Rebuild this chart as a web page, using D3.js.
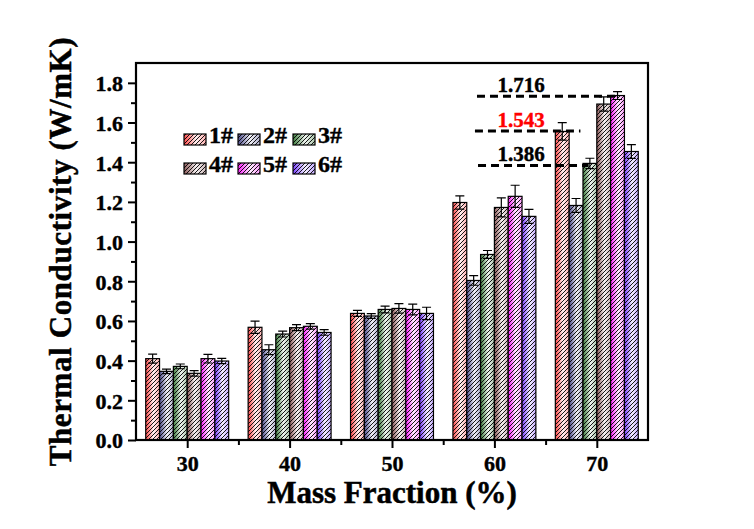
<!DOCTYPE html>
<html><head><meta charset="utf-8">
<script src="https://cdn.jsdelivr.net/npm/d3@7"></script>
<style>body{margin:0;background:#fff}svg{display:block}text{font-family:"Liberation Serif","Times New Roman",serif;font-weight:bold}</style>
</head><body><svg id="c" width="754" height="529"></svg>
<script>
const categories = [30, 40, 50, 60, 70];
const seriesNames = ["1#", "2#", "3#", "4#", "5#", "6#"];
const s1 = [0.410, 0.568, 0.638, 1.197, 1.555];
const s2 = [0.346, 0.455, 0.625, 0.804, 1.182];
const s3 = [0.371, 0.534, 0.658, 0.935, 1.394];
const s4 = [0.336, 0.566, 0.663, 1.172, 1.693];
const s5 = [0.410, 0.573, 0.658, 1.228, 1.736];
const s6 = [0.398, 0.542, 0.638, 1.127, 1.454];
const e1 = [0.023, 0.031, 0.015, 0.033, 0.044];
const e2 = [0.011, 0.025, 0.012, 0.024, 0.035];
const e3 = [0.012, 0.015, 0.017, 0.020, 0.026];
const e4 = [0.014, 0.015, 0.024, 0.048, 0.036];
const e5 = [0.022, 0.014, 0.027, 0.056, 0.020];
const e6 = [0.013, 0.014, 0.031, 0.035, 0.035];
const yTicks = [0.0, 0.2, 0.4, 0.6, 0.8, 1.0, 1.2, 1.4, 1.6, 1.8];
const annotLabels = ["1.716", "1.543", "1.386"];
const annotLevels = [1.733, 1.557, 1.384];
const annotStart = [58.3, 58.1, 58.4];
const annotEnd = [71.8, 68.4, 69.2];
const annotColors = ["#000", "#ff0000", "#000"];
const colors = ["#ff4a4a", "#50508f", "#3f7f3f", "#8c5a5a", "#ff20ff", "#7a40ff"];

const values = [s1, s2, s3, s4, s5, s6];
const errors = [e1, e2, e3, e4, e5, e6];

const svg = d3.select("#c");
svg.append("rect").attr("width", 754).attr("height", 529).attr("fill", "#fff");
const L = 136, R = 648, T = 63, B = 440;
const x = d3.scaleLinear().domain([25, 75]).range([L, R]);
const y = d3.scaleLinear().domain([0, 1.9]).range([B, T]);
const groupHalf = 4.05;
const sub = d3.scaleBand().domain(seriesNames).range([-groupHalf, groupHalf]).padding(0);

const defs = svg.append("defs");
colors.forEach((c, i) => {
  const g = defs.append("linearGradient").attr("id", "g" + i).attr("x1", 0).attr("x2", 1).attr("y1", 0).attr("y2", 0);
  const light = d3.interpolateRgb(c, "#fff");
  g.append("stop").attr("offset", 0).attr("stop-color", c);
  g.append("stop").attr("offset", 0.2).attr("stop-color", light(0.3));
  g.append("stop").attr("offset", 0.55).attr("stop-color", light(0.92));
  g.append("stop").attr("offset", 1).attr("stop-color", light(0.55));
});
const pat = defs.append("pattern").attr("id", "hatch").attr("patternUnits", "userSpaceOnUse")
  .attr("width", 4).attr("height", 4);
pat.append("path").attr("d", "M-1,1 l2,-2 M0,4 l4,-4 M3,5 l2,-2").attr("stroke", "#000").attr("stroke-width", 0.9);

// bars
const gBars = svg.append("g");
seriesNames.forEach((s, i) => {
  categories.forEach((cat, j) => {
    const x0 = x(cat + sub(s)), x1 = x(cat + sub(s) + sub.bandwidth());
    const v = values[i][j];
    gBars.append("rect").attr("x", x0).attr("y", y(v)).attr("width", x1 - x0).attr("height", B - y(v)).attr("fill", `url(#g${i})`);
    gBars.append("rect").attr("x", x0).attr("y", y(v)).attr("width", x1 - x0).attr("height", B - y(v))
      .attr("fill", "url(#hatch)").attr("stroke", "#000").attr("stroke-width", 1.2);
    const cx = (x0 + x1) / 2, e = errors[i][j];
    gBars.append("path").attr("d", `M${cx},${y(v + e)}V${y(v - e)}M${cx - 4.5},${y(v + e)}H${cx + 4.5}M${cx - 4.5},${y(v - e)}H${cx + 4.5}`)
      .attr("stroke", "#000").attr("stroke-width", 1.2).attr("fill", "none");
  });
});

// annotations
annotLabels.forEach((t, i) => {
  svg.append("line").attr("x1", x(annotStart[i])).attr("x2", x(annotEnd[i]))
    .attr("y1", y(annotLevels[i])).attr("y2", y(annotLevels[i]))
    .attr("stroke", "#000").attr("stroke-width", 3).attr("stroke-dasharray", "8,5");
  svg.append("text").attr("x", x(62.6)).attr("y", y(annotLevels[i]) - 4).attr("text-anchor", "middle")
    .attr("font-size", 21).attr("fill", annotColors[i]).attr("stroke", annotColors[i]).attr("stroke-width", 0.4).text(t);
});

// axes
const xAxis = d3.axisBottom(x).tickValues(categories).tickSize(8).tickFormat(d3.format("d"));
const gx = svg.append("g").attr("transform", `translate(0,${B})`).call(xAxis);
gx.select(".domain").remove();
gx.selectAll(".tick line").attr("stroke-width", 2);
gx.selectAll(".tick text").attr("font-size", 22).attr("dy", 0).attr("y", 31)
  .attr("font-family", "Liberation Serif").attr("font-weight", "bold").attr("stroke", "#000").attr("stroke-width", 0.4);
const xMinor = d3.axisBottom(x).tickValues([35, 45, 55, 65]).tickSize(5).tickFormat("");
const gxm = svg.append("g").attr("transform", `translate(0,${B})`).call(xMinor);
gxm.select(".domain").remove();
gxm.selectAll(".tick line").attr("stroke-width", 2);

const yAxis = d3.axisLeft(y).tickValues(yTicks).tickSize(8).tickFormat(d3.format(".1f"));
const gy = svg.append("g").attr("transform", `translate(${L},0)`).call(yAxis);
gy.select(".domain").remove();
gy.selectAll(".tick line").attr("stroke-width", 2);
gy.selectAll(".tick text").attr("font-size", 22).attr("x", -13).attr("dy", "0.36em")
  .attr("font-family", "Liberation Serif").attr("font-weight", "bold").attr("stroke", "#000").attr("stroke-width", 0.4);
const yMinor = d3.axisLeft(y).tickValues(d3.range(0.1, 1.9, 0.2)).tickSize(5).tickFormat("");
const gym = svg.append("g").attr("transform", `translate(${L},0)`).call(yMinor);
gym.select(".domain").remove();
gym.selectAll(".tick line").attr("stroke-width", 2);

svg.append("rect").attr("x", L).attr("y", T).attr("width", R - L).attr("height", B - T)
  .attr("fill", "none").attr("stroke", "#000").attr("stroke-width", 2.2);

// titles
svg.append("text").attr("x", (L + R) / 2).attr("y", 503).attr("text-anchor", "middle").attr("font-size", 31)
  .attr("stroke", "#000").attr("stroke-width", 0.5).text("Mass Fraction (%)");
svg.append("text").attr("transform", `translate(71,${(T + B) / 2}) rotate(-90)`).attr("text-anchor", "middle").attr("font-size", 31)
  .attr("letter-spacing", 0.6).attr("stroke", "#000").attr("stroke-width", 0.5).text("Thermal Conductivity (W/mK)");

// legend
const legX = [184, 238, 293], legY = [134, 163];
seriesNames.forEach((s, i) => {
  const lx = legX[i % 3], ly = legY[Math.floor(i / 3)];
  svg.append("rect").attr("x", lx).attr("y", ly).attr("width", 22).attr("height", 11).attr("fill", `url(#g${i})`);
  svg.append("rect").attr("x", lx).attr("y", ly).attr("width", 22).attr("height", 11).attr("fill", "url(#hatch)").attr("stroke", "#000").attr("stroke-width", 1.2);
  svg.append("text").attr("x", lx + 25).attr("y", ly + 9).attr("font-size", 24).attr("stroke", "#000").attr("stroke-width", 0.4).text(s);
});
</script></body></html>
